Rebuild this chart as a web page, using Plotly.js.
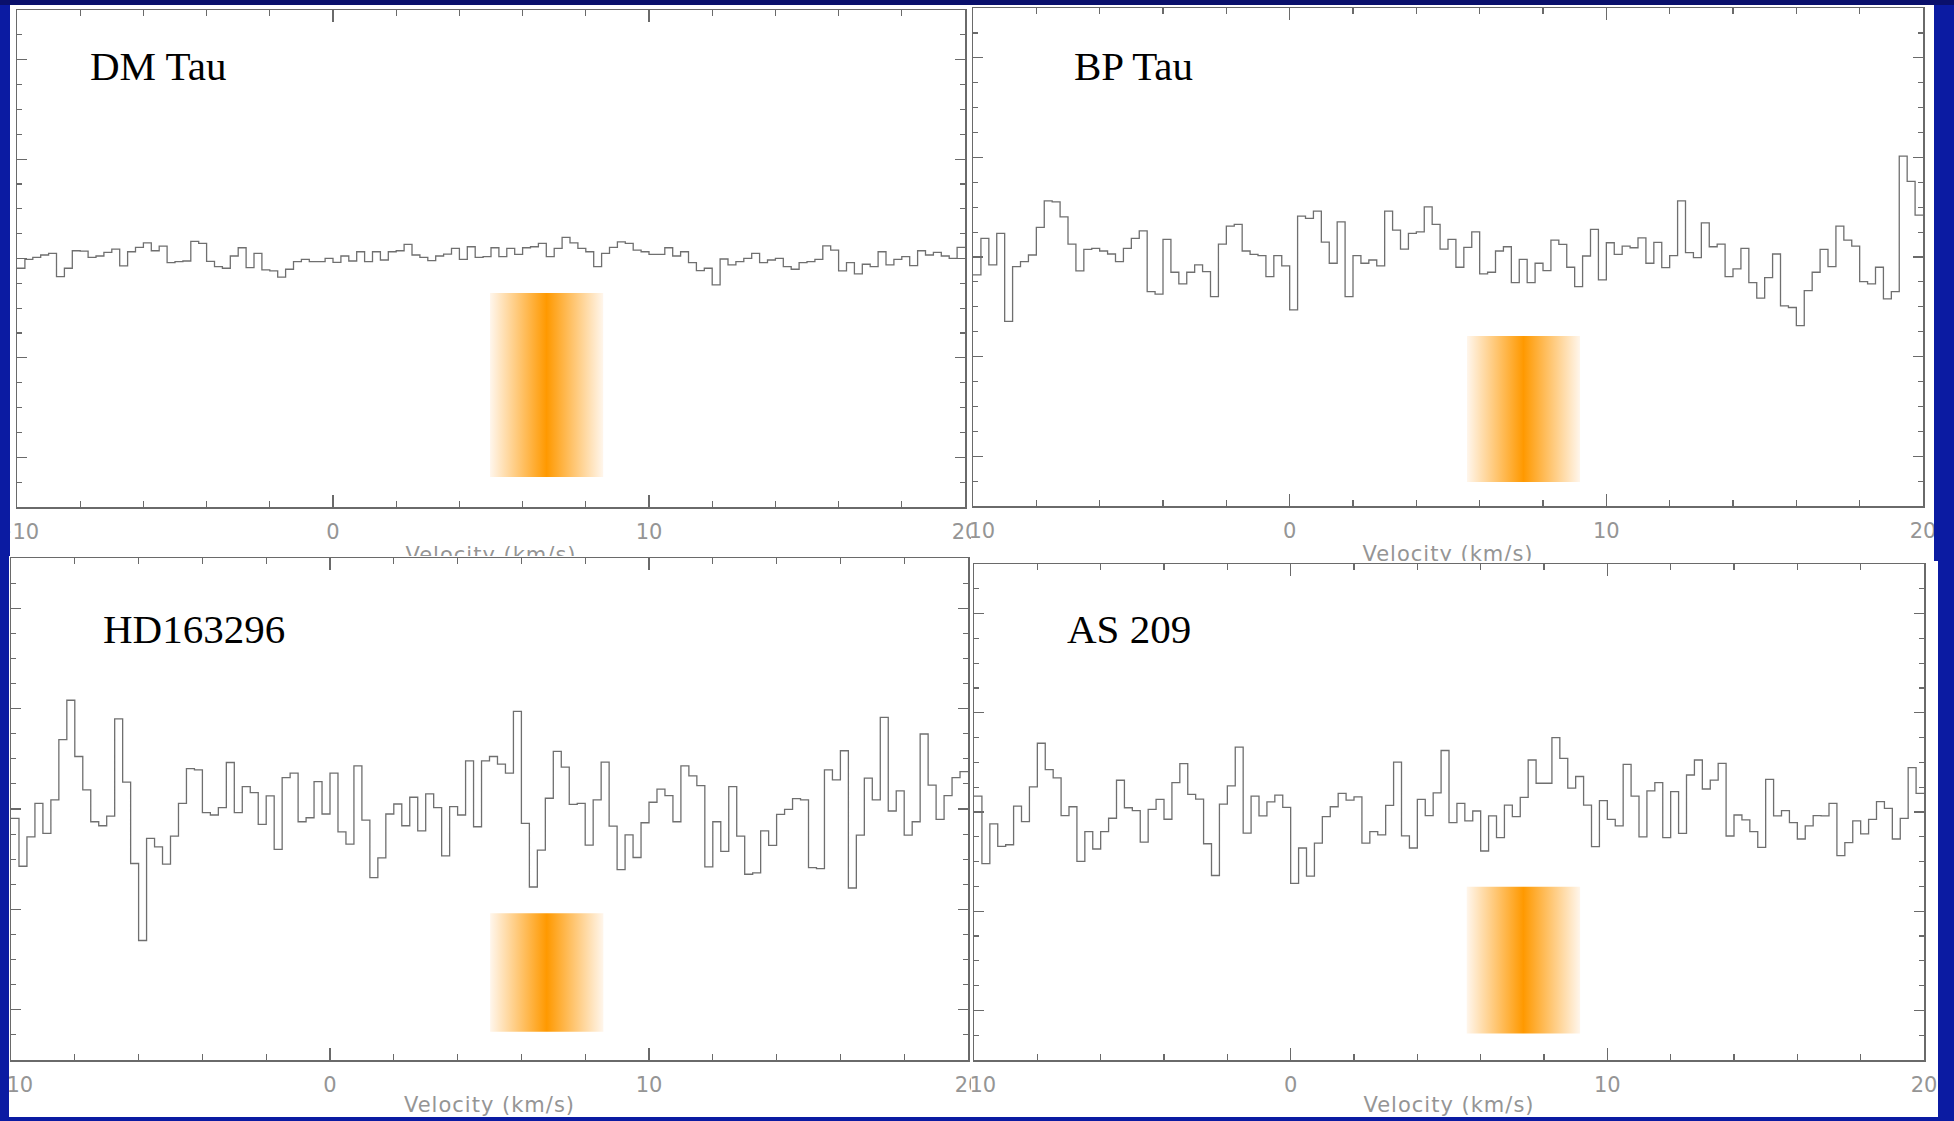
<!DOCTYPE html>
<html>
<head>
<meta charset="utf-8">
<script src="https://cdn.plot.ly/plotly-3.0.1.min.js"></script>
<style>
  html, body { margin: 0; padding: 0; }
  body { width: 1954px; height: 1121px; position: relative; overflow: hidden; background: #0b1ba2; }
  #topband { position: absolute; left: 0; top: 0; width: 1954px; height: 5px; background: #0a106c; }
  .panel { position: absolute; overflow: hidden; background: #ffffff; }
  .panel text.xtitle { letter-spacing: 1px; }
</style>
</head>
<body>
<div id="topband"></div>
<div id="p1" class="panel"></div>
<div id="p2" class="panel"></div>
<div id="p3" class="panel"></div>
<div id="p4" class="panel"></div>
<script>
// Channel grid: 120 channels of 0.25 km/s, first channel centred at -9.875 km/s
const CHAN_START = -9.875;
const CHAN_WIDTH = 0.25;

// Spectra (arbitrary intensity units, one value per channel)
const dmTau = [
  -9.8, -0.8, 1.2, 3.5, 5.2, -18.2, -9.8, 7.8, 7.5, 1.2,
  2.5, 6.2, 9.5, -7.5, 6.8, 11.2, 15.8, 7.8, 12.5, -4.2,
  -3.2, -2.5, 17.2, 15.2, -2.8, -8.2, -9.8, 2.5, 10.8, -9.2,
  5.2, -11.5, -12.5, -18.8, -10.8, -3.2, -0.8, -3.2, -3.2, 0.2,
  -3.8, 2.5, -2.5, 6.8, -3.2, 6.8, -1.5, 6.8, 7.8, 14.2,
  3.5, 1.2, -2.2, 2.5, 4.5, 10.2, -0.8, 11.8, 1.2, 1.8,
  10.8, 1.8, 10.2, 4.2, 10.8, 11.8, 15.2, 1.8, 10.2, 21.2,
  15.8, 10.2, 6.8, -8.2, 5.2, 11.2, 16.8, 15.2, 8.5, 6.8,
  4.2, 4.2, 10.8, 2.5, 6.8, -4.2, -12.2, -9.8, -26.5, -0.5,
  -6.5, -3.2, 0.2, 5.2, -4.2, -1.5, 0.2, -8.2, -10.8, -4.2,
  -3.2, -0.8, 12.8, 8.5, -12.5, -4.2, -15.5, -5.8, -8.2, 6.8,
  -6.5, -0.8, 1.8, -7.2, 7.8, 3.5, 6.2, 2.5, 0.2, 11.2
];
const bpTau = [
  -18, 18.7, -8, 23.7, -64.7, -9.7, -4.7, 2, 29.7, 56.3,
  55.3, 40.3, 13, -14, 7.7, 8.7, 6, 3, -4.7, 8.7,
  18.7, 26.3, -34.7, -37.3, 17.7, -15.3, -27, -15.3, -8, -14.7,
  -39.7, 13, 31, 32.7, 6, 2.7, 1.3, -19.7, 1.3, -9,
  -53, 41, 38.7, 46, 15, -6.3, 35.3, -39.7, 1.3, -6.3,
  -3, -9, 46, 27, 8, 23.7, 25.3, 50.3, 32.7, 8,
  17.7, -10.3, 9.7, 25.3, -17, -15.3, 6, 10.3, -25.7, -2.3,
  -25.7, -6.3, -13.7, 17, 12.7, -10.3, -29.7, 1, 27.7, -23,
  14.3, 2.7, 11, 9.3, 19.3, -6.3, 14.7, -10.7, 1.3, 56.3,
  4.3, -0.7, 34.3, 10.3, 13, -19.7, -12, 8.7, -25.7, -41.3,
  -20.7, 3, -49, -50.7, -69, -33.7, -15.3, 7.7, -9.7, 31,
  17, 11, -24.7, -27, -10.3, -42, -34.7, 101.3, 76, 42
];
const hd163296 = [
  -9.3, -57, -27.7, 5.7, -24.3, 9, 69, 108.3, 52.3, 19,
  -12.7, -16.7, -7, 89.7, 26.7, -54.3, -131, -29.3, -37.7, -55,
  -27, 5.7, 40.3, 39, -3.7, -6, 1.3, 46.3, -3.7, 22.3,
  16.3, -15.3, 13, -40.3, 31.3, 35.7, -12.7, -8.7, 27.3, -5,
  35.7, -22.7, -35, 43, -11, -68.3, -48.7, -5, 5, -16.7,
  11.7, -21.7, 15, 1.3, -46.7, 2.3, -6, 48, -17.7, 48,
  52.3, 44.7, 35.7, 97.3, -14.3, -77.7, -41, 10.7, 57.3, 41.7,
  4.7, 5.7, -36, 9, 46.7, -17, -60.3, -25.7, -48.3, -13.7,
  6.7, 19.7, 13.3, -12.7, 43, 33, 23.3, -57.7, -12.7, -42.3,
  22.3, -27, -65, -63.7, -21.7, -36.3, -5.3, -0.3, 10.3, 9,
  -58.3, -59.3, 39, 29, 58, -78.7, -26, 30.7, 9, 91.3,
  -2, 18, -26, -12.7, 74.7, 23.7, -10.3, 13.3, 31.3, 37.3
];
const as209 = [
  16, -52, -12, -34.7, -33, 6, -9.7, 25.3, 69.3, 42.7,
  34.3, -3.7, 5.3, -49.7, -19.7, -37.3, -19.7, -6.3, 32, 4.3,
  1.3, -30.3, 2.7, 12.7, -7.3, 29.7, 48.7, 17.7, 13, -32,
  -64, 8, 26.3, 65.3, -21.3, 16, -4, 10.3, 17, 4.7,
  -72, -36.3, -64.7, -31.3, -4.7, 5.3, 18.7, 12, 15.3, -31.3,
  -19.7, -23, 6.7, 50.3, -24, -36.3, 12.7, -3.7, 19.3, 62,
  -10.8, 8.7, -9, 1, -39.3, -4, -25.9, 7, -4.7, 14.8,
  52.4, 29, 29, 75, 54, 24, 35.8, 7, -35, 11.4,
  -7.4, -14, 48, 16, -25, 21.2, 29.6, -25.9, 20.5, -21.5,
  37.3, 52.4, 23.2, 32.2, 49, -24.2, -3, -8, -19.8, -35.6,
  32.9, -4, 1.3, -10.8, -27.2, -14, -3.7, -4, 8.7, -44,
  -30.9, -9, -22.1, -7.4, 10.4, 3.7, -27.2, -6.4, 44.7, 18.8
];

// Source names
const starNames = ['DM Tau', 'BP Tau', 'HD163296', 'AS 209'];

// Expected line-velocity window for each source [v_min, v_max] (km/s)
const bandVelocity = [[4.97, 8.55], [5.60, 9.17], [5.02, 8.57], [5.56, 9.14]];
// Vertical extent of each window marker [bottom, top] in intensity units
const bandIntensity = [[-219.8, -34.7], [-225.9, -79.3], [-221.9, -103.9], [-223.4, -75.3]];

// Axis ticks
const velocityTicks = [-10, 0, 10, 20];

// Page geometry of each panel: box (left, top, width, height) and plot frame (x0, x1, y0, y1)
const panels = [
  { id: 'p1', data: dmTau,    box: [10, 5, 980, 570],    frame: [16.7, 965, 10, 507],    name: [0.0747, 0.8867] },
  { id: 'p2', data: bpTau,    box: [971, 5, 963, 580],   frame: [972.5, 1923, 8, 506],   name: [0.1044, 0.883] },
  { id: 'p3', data: hd163296, box: [9, 556, 981, 561],   frame: [10.6, 968, 558, 1060],  name: [0.0944, 0.858] },
  { id: 'p4', data: as209,    box: [971, 561, 967, 556], frame: [974, 1924, 564, 1060],  name: [0.0962, 0.8683] }
];

const GREY_LINE = '#6f6f6f';
const AXIS_GREY = '#6a6a6a';
const LABEL_GREY = '#959595';
const labelFont = { family: 'DejaVu Sans, sans-serif', size: 21, color: LABEL_GREY };

function stepTrace(vals) {
  // outer steps are extended by half a channel so they meet the frame
  const y = [vals[0]].concat(vals, [vals[vals.length - 1]]);
  return {
    type: 'scatter', mode: 'lines',
    x0: CHAN_START - CHAN_WIDTH, dx: CHAN_WIDTH, y: y,
    line: { shape: 'hvh', color: GREY_LINE, width: 1.3 },
    hoverinfo: 'skip'
  };
}

function bandTrace(i) {
  const v = bandVelocity[i], t = bandIntensity[i];
  return {
    type: 'scatter', mode: 'none',
    x: [v[0], v[1], v[1], v[0], v[0]],
    y: [t[0], t[0], t[1], t[1], t[0]],
    fill: 'toself',
    fillgradient: {
      type: 'horizontal',
      colorscale: [[0, '#fff6ec'], [0.5, '#ff9900'], [1, '#fff6ec']]
    },
    hoverinfo: 'skip'
  };
}

panels.forEach(function (p, i) {
  const [L, T, W, H] = p.box;
  const [fx0, fx1, fy0, fy1] = p.frame;
  const el = document.getElementById(p.id);
  el.style.left = L + 'px';
  el.style.top = T + 'px';
  el.style.width = W + 'px';
  el.style.height = H + 'px';

  const layout = {
    width: W, height: H,
    margin: { l: fx0 - L, r: L + W - fx1, t: fy0 - T, b: T + H - fy1, pad: 0, autoexpand: false },
    paper_bgcolor: '#ffffff',
    plot_bgcolor: '#ffffff',
    showlegend: false,
    xaxis: {
      range: [-10, 20], tickvals: velocityTicks,
      ticks: 'inside', ticklen: 12, tickwidth: 1.2, tickcolor: AXIS_GREY,
      minor: { dtick: 2, tick0: 0, ticks: 'inside', ticklen: 6, tickwidth: 1.2, tickcolor: AXIS_GREY },
      showline: true, linecolor: AXIS_GREY, linewidth: 1.5, mirror: 'ticks',
      showgrid: false, zeroline: false,
      tickfont: labelFont, ticklabelstandoff: 5, ticklabeloverflow: 'allow',
      title: { text: 'Velocity (km/s)', font: labelFont, standoff: 4 },
      fixedrange: true
    },
    yaxis: {
      range: [-250, 250], dtick: 100, tick0: 0,
      ticks: 'inside', ticklen: 10, tickwidth: 1.2, tickcolor: AXIS_GREY,
      minor: { dtick: 25, tick0: 0, ticks: 'inside', ticklen: 5, tickwidth: 1.2, tickcolor: AXIS_GREY },
      showticklabels: false,
      showline: true, linecolor: AXIS_GREY, linewidth: 1.5, mirror: 'ticks',
      showgrid: false, zeroline: false, fixedrange: true
    },
    annotations: [{
      xref: 'paper', yref: 'paper', x: p.name[0], y: p.name[1],
      xanchor: 'left', yanchor: 'middle', showarrow: false,
      text: starNames[i],
      font: { family: 'Liberation Serif, Times New Roman, serif', size: 41, color: '#000000' }
    }]
  };

  Plotly.newPlot(el, [bandTrace(i), stepTrace(p.data)], layout, { staticPlot: true, displayModeBar: false });
});
</script>
</body>
</html>
